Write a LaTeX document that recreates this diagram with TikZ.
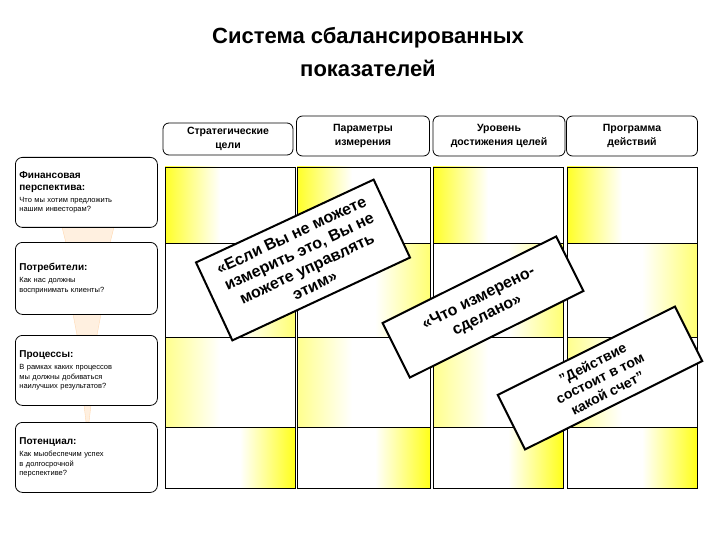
\documentclass[tikz,border=0pt]{standalone}
\usepackage{fontspec}
\setmainfont{Liberation Sans}
\begin{document}
\begin{tikzpicture}[x=1pt,y=-1pt,
  hdr/.style={draw,thick,rounded corners=6pt,align=center,font=\bfseries\fontsize{10.5}{14}\selectfont,inner sep=1pt},
  lbox/.style={draw,thick,fill=white,rounded corners=7pt,minimum width=142pt,anchor=north west,align=left,text width=134pt,font=\fontsize{7.5}{9.5}\selectfont},
  rbox/.style={draw,line width=2pt,fill=white,align=center,inner sep=2pt},
  funnel/.style={fill=orange!12,draw=orange!30}]
\useasboundingbox (0,0) rectangle (720,540);
\node[font=\bfseries\fontsize{22}{33}\selectfont,align=center] (title) at (368,52) {Система сбалансированных\\показателей};
% headers
\node[hdr,minimum width=130pt,minimum height=32pt] (h1) at (228,139) {Стратегические\\цели};
\node[hdr,minimum width=133pt,minimum height=40pt] (h2) at (363,136) {Параметры\\измерения};
\node[hdr,minimum width=132pt,minimum height=40pt] (h3) at (499,136) {Уровень\\достижения целей};
\node[hdr,minimum width=131pt,minimum height=40pt] (h4) at (632,136) {Программа\\действий};
% grid cells
\foreach \xa/\xb in {165/295,297/430,433/563,567/697}{
  \pgfmathsetmacro{\xl}{\xa+55}
  \pgfmathsetmacro{\xr}{\xb-55}
  \shade[left color=yellow!85,right color=white] (\xa,167) rectangle (\xl,243);
  \shade[left color=white,right color=yellow!55] (\xr,243) rectangle (\xb,337);
  \shade[left color=yellow!45,right color=white] (\xa,337) rectangle (\xl,427);
  \shade[left color=white,right color=yellow!90] (\xr,427) rectangle (\xb,488);
  \draw (\xa,167) rectangle (\xb,488);
  \draw (\xa,243) -- (\xb,243) (\xa,337) -- (\xb,337) (\xa,427) -- (\xb,427);
}
% funnels
\fill[funnel] (62,227) -- (114,227) -- (110,243) -- (66,243) -- cycle;
\fill[funnel] (73,314) -- (101,314) -- (97,335) -- (77,335) -- cycle;
\fill[funnel] (84,405) -- (91,405) -- (89,422) -- (86,422) -- cycle;
% left boxes
\node[lbox,minimum height=70pt] (b1) at (15,157) {{\bfseries\fontsize{10}{12}\selectfont Финансовая\\перспектива:\par}\vspace{2pt}Что мы хотим предложить\\нашим инвесторам?\par\vspace{4pt}};
\node[lbox,minimum height=72pt] (b2) at (15,242) {{\bfseries\fontsize{10}{12}\selectfont Потребители:\par}\vspace{3pt}Как нас должны\\воспринимать клиенты?\par\vspace{14pt}};
\node[lbox,minimum height=70pt] (b3) at (15,335) {{\bfseries\fontsize{10}{12}\selectfont Процессы:\par}\vspace{3pt}В рамках каких процессов\\мы должны добиваться\\наилучших результатов?\par};
\node[lbox,minimum height=70pt] (b4) at (15,422) {{\bfseries\fontsize{10}{12}\selectfont Потенциал:\par}\vspace{3pt}Как мыобеспечим успех\\в долгосрочной\\перспективе?\par};
% rotated quote boxes
\node[rbox,rotate=25,minimum width=196pt,minimum height=86pt,font=\bfseries\fontsize{16}{18.5}\selectfont] (q1) at (303,260) {«Если Вы не можете\\измерить это, Вы не\\можете управлять\\этим»};
\node[rbox,rotate=26.5,minimum width=194pt,minimum height=61pt,font=\bfseries\fontsize{16}{19}\selectfont] (q2) at (483,307) {«Что измерено-\\сделано»};
\node[rbox,rotate=26.5,minimum width=198pt,minimum height=61pt,font=\bfseries\fontsize{14}{16.5}\selectfont] (q3) at (600,378) {"Действие\\состоит в том\\какой счет"};
\end{tikzpicture}
\end{document}
